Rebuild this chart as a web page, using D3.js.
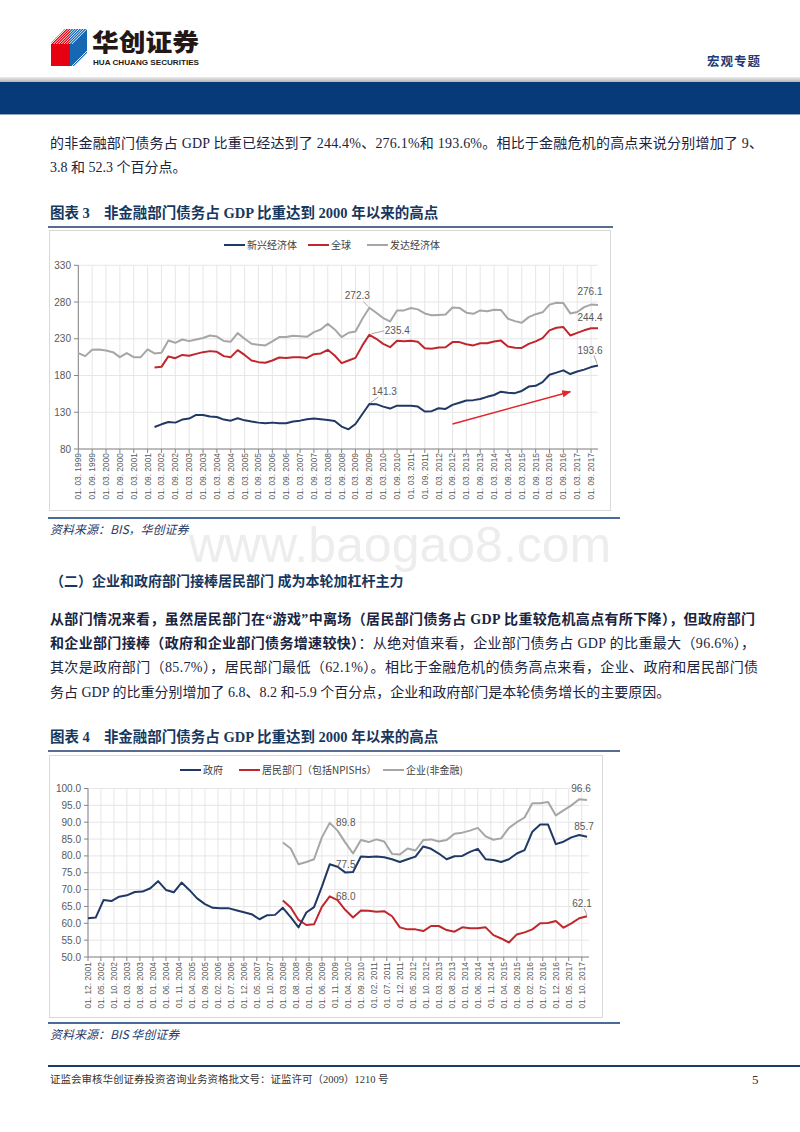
<!DOCTYPE html>
<html><head><meta charset="utf-8">
<script src="https://cdn.jsdelivr.net/npm/d3@7"></script>
<style>body{margin:0;background:#fff} svg{display:block}</style>
</head><body>
<svg id="page" width="800" height="1132"></svg>
<script>
// ---------------- DATA: chart 3 (quarterly) ----------------
const cats1 = ["1999-03","1999-06","1999-09","1999-12","2000-03","2000-06","2000-09","2000-12","2001-03","2001-06","2001-09","2001-12",
"2002-03","2002-06","2002-09","2002-12","2003-03","2003-06","2003-09","2003-12","2004-03","2004-06","2004-09","2004-12",
"2005-03","2005-06","2005-09","2005-12","2006-03","2006-06","2006-09","2006-12","2007-03","2007-06","2007-09","2007-12",
"2008-03","2008-06","2008-09","2008-12","2009-03","2009-06","2009-09","2009-12","2010-03","2010-06","2010-09","2010-12",
"2011-03","2011-06","2011-09","2011-12","2012-03","2012-06","2012-09","2012-12","2013-03","2013-06","2013-09","2013-12",
"2014-03","2014-06","2014-09","2014-12","2015-03","2015-06","2015-09","2015-12","2016-03","2016-06","2016-09","2016-12",
"2017-03","2017-06","2017-09","2017-12"];
const ticks1 = ["01. 03. 1999","01. 09. 1999","01. 03. 2000","01. 09. 2000","01. 03. 2001","01. 09. 2001","01. 03. 2002","01. 09. 2002",
"01. 03. 2003","01. 09. 2003","01. 03. 2004","01. 09. 2004","01. 03. 2005","01. 09. 2005","01. 03. 2006","01. 09. 2006",
"01. 03. 2007","01. 09. 2007","01. 03. 2008","01. 09. 2008","01. 03. 2009","01. 09. 2009","01. 03. 2010","01. 09. 2010",
"01. 03. 2011","01. 09. 2011","01. 03. 2012","01. 09. 2012","01. 03. 2013","01. 09. 2013","01. 03. 2014","01. 09. 2014",
"01. 03. 2015","01. 09. 2015","01. 03. 2016","01. 09. 2016","01. 03. 2017","01. 09. 2017"];
const yTicks1 = [80,130,180,230,280,330];
const names1 = ["新兴经济体","全球","发达经济体"];
const emerging = [null,null,null,null,null,null,null,null,null,null,null,
110,113.6,116.8,115.9,120,121.4,126.4,126.4,124.1,123.6,120,118.6,121.8,119,
117.3,115.9,115,115.9,115,115,117.3,118.6,120.5,121.4,120.5,119.5,118.2,110.5,106.8,114,127.7,141.3,141,137.7,135,139,139,139,137.7,
131,131.5,135.5,134.5,140,143,146,146.5,148,151,153.5,158,156.5,156,159,165,166,171,181,184,187,182,185.5,188,191.5,193.6];
const world = [null,null,null,null,null,null,null,null,null,null,null,
191,191.8,206,203.6,208,207,209.5,211.8,213.2,212.3,206.4,205,214.5,208,
200.5,198.2,197.3,200.5,204.5,204,205,205,204,209,210,215,207.3,196.8,200.5,204,221,235.4,230,223,218.6,227.3,226.8,227.3,226,
217,216.5,218,218.5,225.5,225.5,222.5,221,224,224,226.4,227.5,219.6,217.8,217.5,223,226.4,231,241.5,245,246,234.5,238,241.5,244.4,244.4];
const developed = [210.5,206.4,215,215.5,214,211.8,205,210.5,205,205,215.5,210,211,227.7,224.5,229,226.8,229,231,234.5,233,227,226,237.7,230,
223.2,221.8,220.9,226.4,232.3,232.3,234,233.6,232.7,239,242.7,250.5,242.7,232.3,238.2,240,257.3,272.3,265.5,258.2,253.6,268.6,268.6,271.8,270,
264.5,262,262.5,263,272.5,272,265.5,264,268.6,267.5,269.5,269,257.3,254,251.8,259.5,263.5,266,276.5,279,278.6,264.5,266.4,273,276.5,276.1];
const trendArrow1 = [{cat:"2012-09", v:114}, {cat:"2016-12", v:158}];

// ---------------- DATA: chart 4 (quarterly) ----------------
const cats2 = ["2001-12","2002-03","2002-06","2002-09","2002-12","2003-03","2003-06","2003-09","2003-12","2004-03","2004-06","2004-09","2004-12",
"2005-03","2005-06","2005-09","2005-12","2006-03","2006-06","2006-09","2006-12","2007-03","2007-06","2007-09","2007-12",
"2008-03","2008-06","2008-09","2008-12","2009-03","2009-06","2009-09","2009-12","2010-03","2010-06","2010-09","2010-12",
"2011-03","2011-06","2011-09","2011-12","2012-03","2012-06","2012-09","2012-12","2013-03","2013-06","2013-09","2013-12",
"2014-03","2014-06","2014-09","2014-12","2015-03","2015-06","2015-09","2015-12","2016-03","2016-06","2016-09","2016-12",
"2017-03","2017-06","2017-09","2017-12"];
const ticks2 = ["01. 12. 2001","01. 05. 2002","01. 10. 2002","01. 03. 2003","01. 08. 2003","01. 01. 2004","01. 06. 2004","01. 11. 2004",
"01. 04. 2005","01. 09. 2005","01. 02. 2006","01. 07. 2006","01. 12. 2006","01. 05. 2007","01. 10. 2007","01. 03. 2008","01. 08. 2008",
"01. 01. 2009","01. 06. 2009","01. 11. 2009","01. 04. 2010","01. 09. 2010","01. 02. 2011","01. 07. 2011","01. 12. 2011","01. 05. 2012",
"01. 10. 2012","01. 03. 2013","01. 08. 2013","01. 01. 2014","01. 06. 2014","01. 11. 2014","01. 04. 2015","01. 09. 2015","01. 02. 2016",
"01. 07. 2016","01. 12. 2016","01. 05. 2017","01. 10. 2017"];
const yTicks2 = [50,55,60,65,70,75,80,85,90,95,100];
const names2 = ["政府","居民部门（包括NPISHs）","企业(非金融)"];
const government = [61.5,61.7,66.9,66.6,67.9,68.3,69.3,69.4,70.4,72.5,69.9,69.2,72.1,69.9,67.4,65.7,64.6,64.5,64.5,63.9,
63.3,62.7,61.2,62.4,62.5,64.6,61.8,58.8,63.2,64.8,70.9,77.5,76.8,75.1,75.2,79.8,79.7,79.8,79.6,79,
78.2,79,79.8,82.8,82.1,80.7,79,79.9,80,81.2,82.1,79,78.8,78.2,79,80.7,81.7,87.2,89.3,89.3,83.5,84.2,85.5,86.2,85.7];
const household = [null,null,null,null,null,null,null,null,null,null,null,null,null,null,null,null,null,null,null,null,null,null,null,null,null,
66.8,64.7,61,59.5,59.7,64.9,68.0,66.9,64,61.7,63.8,63.7,63.4,63.6,62.1,58.8,58.2,58.2,57.7,59.2,
59.2,58,57.5,58.8,58.5,58.5,58.8,56.5,55.5,54.3,56.7,57.3,58.2,60,60.1,60.7,58.7,60,61.5,62.1];
const corporate = [null,null,null,null,null,null,null,null,null,null,null,null,null,null,null,null,null,null,null,null,null,null,null,null,null,
84,82.2,77.5,78.2,79,85.5,89.8,87.5,84,80.7,84.7,84.1,84.9,84.3,80.6,80.4,82.2,81.6,84.7,84.9,
84.3,84.7,86.6,86.9,87.5,88.3,85.8,84.8,85.2,88.3,90,91.4,95.6,95.6,96,92,93.5,95,96.8,96.6];

// ---------------- STYLE ----------------
const C_BLUE = "#1f3864", C_RED = "#c0272d", C_GRAY = "#a6a6a6";
const NAVY = "#1f3b6b";
const TXT = "'Liberation Serif','Noto Sans CJK SC',serif";
const CJK = "'Noto Sans CJK SC',sans-serif";
const AX = "'Liberation Sans','Noto Sans CJK SC',sans-serif";

const svg = d3.select("#page");

// ---------------- HEADER ----------------
const defs = svg.append("defs");
const gradH = defs.append("linearGradient").attr("id","hgray").attr("x1",0).attr("y1",0).attr("x2",0).attr("y2",1);
gradH.append("stop").attr("offset","0%").attr("stop-color","#ececec");
gradH.append("stop").attr("offset","100%").attr("stop-color","#b4b4b4");
defs.append("clipPath").attr("id","logoclip").append("path").attr("d","M51,43 L65,29 L87,29 L87,53 L74,66 L51,66 Z");
defs.append("marker").attr("id","arrowhead").attr("viewBox","0 0 10 10").attr("refX",9).attr("refY",5)
  .attr("markerWidth",6).attr("markerHeight",6).attr("orient","auto")
  .append("path").attr("d","M0,1 L10,5 L0,9 Z").attr("fill","#e3262b");

const logo = svg.append("g").attr("clip-path","url(#logoclip)");
logo.append("rect").attr("x",51).attr("y",29).attr("width",19).attr("height",37).attr("fill","#e50012");
logo.append("rect").attr("x",70).attr("y",29).attr("width",17).attr("height",37).attr("fill","#1768b3");
for (let k = 0; k < 9; k++) {
  const o = 2.6 * k;
  logo.append("line").attr("x1",51+o).attr("y1",44).attr("x2",66+o).attr("y2",29).attr("stroke","#fff").attr("stroke-width",0.9);
  logo.append("line").attr("x1",72+o).attr("y1",66).attr("x2",87+o).attr("y2",51).attr("stroke","#fff").attr("stroke-width",0.9);
}
svg.append("text").attr("x",92).attr("y",51).attr("font-family",CJK).attr("font-weight",900).attr("font-size",24)
  .attr("textLength",107).attr("lengthAdjust","spacingAndGlyphs").attr("fill","#231815").text("华创证券");
svg.append("text").attr("x",93).attr("y",64.5).attr("font-family","'Liberation Sans Narrow','Liberation Sans',sans-serif").attr("font-weight",700)
  .attr("font-size",7.5).attr("textLength",106).attr("lengthAdjust","spacingAndGlyphs").attr("fill","#231815").text("HUA CHUANG SECURITIES");
svg.append("text").attr("x",707).attr("y",66).attr("font-family",CJK).attr("font-weight",700).attr("font-size",12.5)
  .attr("textLength",53).attr("fill","#1f3b73").text("宏观专题");
svg.append("rect").attr("x",0).attr("y",77).attr("width",800).attr("height",5).attr("fill","url(#hgray)");
svg.append("rect").attr("x",0).attr("y",82).attr("width",800).attr("height",32).attr("fill","#063a79");
svg.append("line").attr("x1",0).attr("x2",800).attr("y1",114.5).attr("y2",114.5).attr("stroke","#8ea3c0").attr("stroke-width",1);

// ---------------- BODY TEXT ----------------
function textLine(x, y, parts, opts = {}) {
  const t = svg.append("text").attr("x",x).attr("y",y).attr("font-family",TXT).attr("font-size",opts.size || 14)
    .attr("fill",opts.fill || "#1a2440");
  if (opts.width) t.attr("textLength",opts.width).attr("lengthAdjust","spacing");
  parts.forEach(p => {
    const s = t.append("tspan").text(p.t);
    if (p.b) s.attr("font-weight",700);
    if (p.dx) s.attr("dx",p.dx);
  });
  return t;
}
textLine(50, 148, [{t:"的非金融部门债务占 GDP 比重已经达到了 244.4%、276.1%和 193.6%。相比于金融危机的高点来说分别增加了 9、"}], {width:713});
textLine(50, 172, [{t:"3.8 和 52.3 个百分点。"}]);

// watermark
svg.append("text").attr("x",400).attr("y",562).attr("text-anchor","middle").attr("font-family","'Liberation Sans',sans-serif")
  .attr("font-size",50).attr("fill","#ededed").text("www.baogao8.com");

textLine(50, 586, [{t:"（二）企业和政府部门接棒居民部门 成为本轮加杠杆主力", b:true}], {fill:"#17375e"});
textLine(50, 624, [{t:"从部门情况来看，虽然居民部门在“游戏”中离场（居民部门债务占 GDP 比重较危机高点有所下降），但政府部门", b:true}], {width:705});
textLine(50, 648, [{t:"和企业部门接棒（政府和企业部门债务增速较快）", b:true},{t:"：从绝对值来看，企业部门债务占 GDP 的比重最大（96.6%），"}], {width:705});
textLine(50, 672, [{t:"其次是政府部门（85.7%），居民部门最低（62.1%）。相比于金融危机的债务高点来看，企业、政府和居民部门债"}], {width:708});
textLine(50, 697, [{t:"务占 GDP 的比重分别增加了 6.8、8.2 和-5.9 个百分点，企业和政府部门是本轮债务增长的主要原因。"}]);

// chart titles & rules
function figTitle(y, num, label, ruleEnd) {
  const t = svg.append("text").attr("x",50).attr("y",y).attr("font-family",TXT).attr("font-weight",700).attr("font-size",14.5)
    .attr("fill","#17375e");
  t.append("tspan").text("图表 " + num);
  t.append("tspan").attr("dx",14).text(label);
  svg.append("line").attr("x1",48).attr("x2",ruleEnd).attr("y1",y+9).attr("y2",y+9).attr("stroke",NAVY).attr("stroke-width",1.5);
}
figTitle(218, "3", "非金融部门债务占 GDP 比重达到 2000 年以来的高点", 613);
figTitle(742, "4", "非金融部门债务占 GDP 比重达到 2000 年以来的高点", 620);

function source(y, label) {
  svg.append("line").attr("x1",48).attr("x2",620).attr("y1",y).attr("y2",y).attr("stroke","#4a6a9a").attr("stroke-width",2);
  svg.append("text").attr("x",50).attr("y",y+16).attr("font-family",CJK).attr("font-style","italic").attr("font-size",12)
    .attr("fill",NAVY).text(label);
}
source(518, "资料来源：BIS，华创证券");
source(1023, "资料来源：BIS 华创证券");

// footer
svg.append("line").attr("x1",48).attr("x2",800).attr("y1",1066).attr("y2",1066).attr("stroke",NAVY).attr("stroke-width",2);
svg.append("text").attr("x",50).attr("y",1083).attr("font-family",TXT).attr("font-size",10.5).attr("fill","#333")
  .text("证监会审核华创证券投资咨询业务资格批文号：证监许可（2009）1210 号");
svg.append("text").attr("x",752).attr("y",1084).attr("font-family",TXT).attr("font-size",13).attr("fill","#333").text("5");

// ---------------- CHART helpers ----------------
function legend(y, items) {
  items.forEach(it => {
    svg.append("line").attr("x1",it.x).attr("x2",it.x+21).attr("y1",y).attr("y2",y).attr("stroke",it.c).attr("stroke-width",2);
    svg.append("text").attr("x",it.x+23).attr("y",y).attr("dy","0.35em").attr("font-family",CJK).attr("font-size",10)
      .attr("fill","#404040").text(it.n);
  });
}
function drawLine(g, data, xf, y, color) {
  const line = d3.line().defined(d => d.v != null).x(d => xf(d.c)).y(d => y(d.v));
  g.append("path").attr("d", line(data)).attr("fill","none").attr("stroke",color).attr("stroke-width",2)
    .attr("stroke-linejoin","round");
}
function label(g, x, y, t) {
  g.append("text").attr("x",x).attr("y",y).attr("dy","0.35em").attr("text-anchor","middle").attr("font-family",AX)
    .attr("font-size",10).attr("fill","#595959").text(t);
}
function leader(g, x1, y1, x2, y2) {
  g.append("line").attr("x1",x1).attr("y1",y1).attr("x2",x2).attr("y2",y2).attr("stroke","#a6a6a6").attr("stroke-width",1);
}

// ---------------- CHART 3 ----------------
{
  svg.append("rect").attr("x",49.5).attr("y",230.5).attr("width",561).attr("height",280).attr("fill","none").attr("stroke","#d9d9d9");
  const g = svg.append("g");
  const x = d3.scalePoint().domain(cats1).range([78.3, 598]);
  const y = d3.scaleLinear().domain([80,330]).range([449, 265.3]);
  const tickCat = t => { const p = t.split(". "); return p[2] + "-" + p[1]; };
  g.selectAll(".hg").data(yTicks1).join("line").attr("x1",78.3).attr("x2",598).attr("y1",d=>y(d)).attr("y2",d=>y(d))
    .attr("stroke","#e6e6e6").attr("stroke-width",1);
  g.selectAll(".vg").data(ticks1).join("line").attr("x1",d=>x(tickCat(d))).attr("x2",d=>x(tickCat(d))).attr("y1",y(330)).attr("y2",y(80))
    .attr("stroke","#e6e6e6").attr("stroke-width",1);
  g.append("line").attr("x1",78.3).attr("x2",78.3).attr("y1",y(330)).attr("y2",y(80)).attr("stroke","#868686");
  g.append("line").attr("x1",78.3).attr("x2",598).attr("y1",y(80)).attr("y2",y(80)).attr("stroke","#868686");
  g.selectAll(".yt").data(yTicks1).join("line").attr("x1",74).attr("x2",78.3).attr("y1",d=>y(d)).attr("y2",d=>y(d)).attr("stroke","#868686");
  g.selectAll(".yl").data(yTicks1).join("text").attr("x",71).attr("y",d=>y(d)).attr("dy","0.35em").attr("text-anchor","end")
    .attr("font-family",AX).attr("font-size",10).attr("fill","#595959").text(d=>d);
  g.selectAll(".xt").data(ticks1).join("line").attr("x1",d=>x(tickCat(d))).attr("x2",d=>x(tickCat(d))).attr("y1",y(80)).attr("y2",y(80)+4)
    .attr("stroke","#868686");
  g.selectAll(".xl").data(ticks1).join("text")
    .attr("transform",d=>`translate(${x(tickCat(d))},453) rotate(-90)`).attr("dy","0.35em").attr("text-anchor","end")
    .attr("font-family",AX).attr("font-size",8.4).attr("fill","#595959").text(d=>d);
  const mk = arr => cats1.map((c,i)=>({c, v: arr[i]}));
  drawLine(g, mk(developed), x, y, C_GRAY);
  drawLine(g, mk(world), x, y, C_RED);
  drawLine(g, mk(emerging), x, y, C_BLUE);
  g.append("line").attr("x1",x(trendArrow1[0].cat)).attr("y1",y(trendArrow1[0].v)).attr("x2",x(trendArrow1[1].cat)).attr("y2",y(trendArrow1[1].v))
    .attr("stroke","#e3262b").attr("stroke-width",1.5).attr("marker-end","url(#arrowhead)");
  const pk = cats1.indexOf("2009-09"), last = cats1.length - 1;
  const px = x(cats1[pk]);
  label(g, px-12, y(developed[pk])-12, "272.3"); leader(g, px-6, y(developed[pk])-6, px-1, y(developed[pk])-1);
  label(g, px+28, y(world[pk])-4, "235.4"); leader(g, px+2, y(world[pk])-1, px+15, y(world[pk])-4);
  label(g, px+15, y(emerging[pk])-12, "141.3"); leader(g, px+1, y(emerging[pk])-1, px+9, y(emerging[pk])-7);
  const lx = x(cats1[last]);
  label(g, lx-8, y(developed[last])-13, "276.1");
  label(g, lx-8, y(world[last])-11, "244.4");
  label(g, lx-8, y(emerging[last])-15, "193.6"); leader(g, lx-4, y(emerging[last])-10, lx-1, y(emerging[last])-2);
  legend(245, [{x:224,c:C_BLUE,n:names1[0]},{x:308,c:C_RED,n:names1[1]},{x:367,c:C_GRAY,n:names1[2]}]);
}

// ---------------- CHART 4 ----------------
{
  svg.append("rect").attr("x",49.5).attr("y",755.5).attr("width",553).attr("height",262).attr("fill","none").attr("stroke","#d9d9d9");
  const g = svg.append("g");
  const pc = d3.timeParse("%Y-%m"), pt = d3.timeParse("%d. %m. %Y");
  const x = d3.scaleTime().domain([pc(cats2[0]), pc(cats2[cats2.length-1])]).range([88, 587]);
  const y = d3.scaleLinear().domain([50,100]).range([957, 788.5]);
  const xc = c => x(pc(c));
  g.selectAll(".hg").data(yTicks2).join("line").attr("x1",88).attr("x2",589).attr("y1",d=>y(d)).attr("y2",d=>y(d))
    .attr("stroke","#e6e6e6");
  g.selectAll(".vg").data(ticks2).join("line").attr("x1",d=>x(pt(d))).attr("x2",d=>x(pt(d))).attr("y1",y(100)).attr("y2",y(50))
    .attr("stroke","#e6e6e6");
  g.append("line").attr("x1",88).attr("x2",88).attr("y1",y(100)).attr("y2",y(50)).attr("stroke","#868686");
  g.append("line").attr("x1",88).attr("x2",589).attr("y1",y(50)).attr("y2",y(50)).attr("stroke","#868686");
  g.selectAll(".yt").data(yTicks2).join("line").attr("x1",84).attr("x2",88).attr("y1",d=>y(d)).attr("y2",d=>y(d)).attr("stroke","#868686");
  g.selectAll(".yl").data(yTicks2).join("text").attr("x",81).attr("y",d=>y(d)).attr("dy","0.35em").attr("text-anchor","end")
    .attr("font-family",AX).attr("font-size",10).attr("fill","#595959").text(d=>d3.format(".1f")(d));
  g.selectAll(".xt").data(ticks2).join("line").attr("x1",d=>x(pt(d))).attr("x2",d=>x(pt(d))).attr("y1",y(50)).attr("y2",y(50)+4)
    .attr("stroke","#868686");
  g.selectAll(".xl").data(ticks2).join("text")
    .attr("transform",d=>`translate(${x(pt(d))},962) rotate(-90)`).attr("dy","0.35em").attr("text-anchor","end")
    .attr("font-family",AX).attr("font-size",8.4).attr("fill","#595959").text(d=>d);
  const mk = arr => cats2.map((c,i)=>({c, v: arr[i]}));
  drawLine(g, mk(corporate), xc, y, C_GRAY);
  drawLine(g, mk(household), xc, y, C_RED);
  drawLine(g, mk(government), xc, y, C_BLUE);
  const pk = cats2.indexOf("2009-09"), last = cats2.length - 1;
  const px = xc(cats2[pk]);
  label(g, px+16, y(corporate[pk]), "89.8");
  label(g, px+16, y(government[pk]), "77.5");
  label(g, px+16, y(household[pk]), "68.0");
  const lx = xc(cats2[last]);
  label(g, lx-6, y(corporate[last])-11, "96.6");
  label(g, lx-3, y(government[last])-10, "85.7");
  label(g, lx-5, y(household[last])-13, "62.1"); leader(g, lx-3, y(household[last])-8, lx, y(household[last])-1);
  legend(770, [{x:180,c:C_BLUE,n:names2[0]},{x:239,c:C_RED,n:names2[1]},{x:383,c:C_GRAY,n:names2[2]}]);
}
</script>
</body></html>
